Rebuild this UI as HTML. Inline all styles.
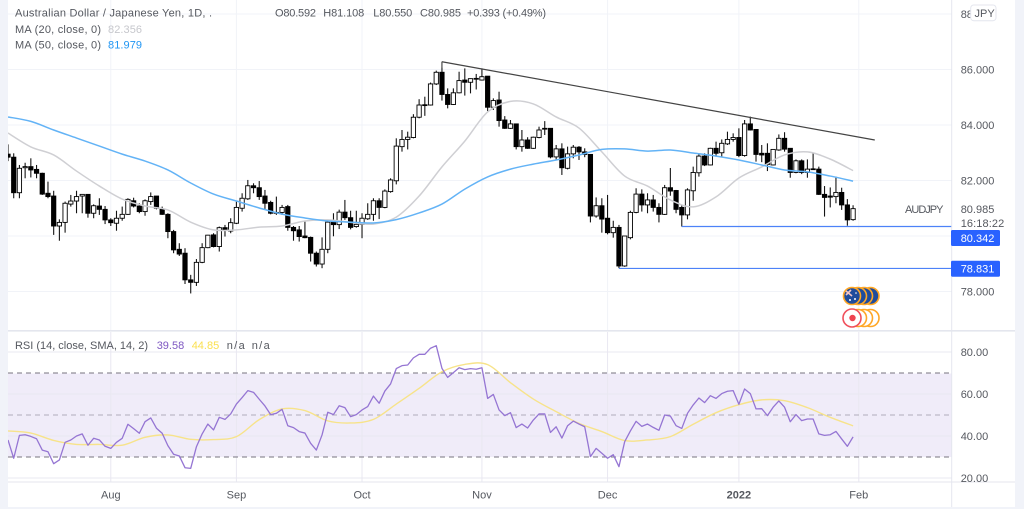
<!DOCTYPE html>
<html lang="en">
<head>
<meta charset="utf-8">
<title>AUD/JPY daily chart</title>
<style>
html,body{margin:0;padding:0;width:1024px;height:509px;overflow:hidden;background:#f1f3f9}
svg{display:block}
text{font-family:"Liberation Sans",sans-serif;font-size:11px;fill:#55585f}
</style>
</head>
<body>
<svg id="chart" xmlns="http://www.w3.org/2000/svg" width="1024" height="509" viewBox="0 0 1024 509">
  <defs>
    <clipPath id="mainClip"><rect x="8" y="0" width="943.5" height="330"/></clipPath>
    <clipPath id="rsiClip"><rect x="8" y="332" width="943.5" height="150"/></clipPath>
    <clipPath id="rsiAxisClip"><rect x="952" y="332" width="63" height="150"/></clipPath>
  </defs>
  <rect x="0" y="0" width="1024" height="509" fill="#f1f3f9"/>
  <rect x="8" y="0" width="1007" height="507" fill="#ffffff"/>
  <rect id="rsiBand" x="8" y="373.5" width="943.5" height="83.5" fill="#f0ecf9"/>
  <g id="gridLayer"></g>
  <g id="candleLayer" clip-path="url(#mainClip)"></g>
  <g id="maLayer" clip-path="url(#mainClip)"></g>
  <g id="drawLayer" clip-path="url(#mainClip)"></g>
  <g id="rsiLayer" clip-path="url(#rsiClip)"></g>

  <line x1="8" y1="330.8" x2="1015" y2="330.8" stroke="#e4e6ee" stroke-width="1.6"/>
  <rect x="8" y="482" width="1007" height="25" fill="#ffffff"/>
  <line x1="8" y1="482" x2="1015" y2="482" stroke="#e4e6ee"/>
  <line x1="951.7" y1="0" x2="951.7" y2="507" stroke="#e4e6ee"/>
  <g id="axisLayer"></g>

  <g>
    <circle cx="870.5" cy="296" r="8.5" fill="#1f4c9c" stroke="#ffa726" stroke-width="1.6"/>
    <circle cx="864" cy="296" r="8.5" fill="#1f4c9c" stroke="#ffa726" stroke-width="1.6"/>
    <circle cx="858" cy="296" r="8.5" fill="#1f4c9c" stroke="#ffa726" stroke-width="1.6"/>
    <circle cx="852" cy="296" r="8.5" fill="#1f4c9c" stroke="#ffa726" stroke-width="1.6"/>
    <path d="M846 291 L852 296 M846 295 L851 290" stroke="#f3c6c6" stroke-width="1.6"/>
    <circle cx="855" cy="299" r="1" fill="#fff"/>
    <circle cx="850" cy="300" r="1" fill="#fff"/>
    <circle cx="856" cy="293" r="0.8" fill="#fff"/>
  </g>
  <g>
    <circle cx="870.5" cy="318" r="8.5" fill="#fff" stroke="#ffa726" stroke-width="1.6"/>
    <circle cx="864" cy="318" r="8.5" fill="#fff" stroke="#ffa726" stroke-width="1.6"/>
    <circle cx="858" cy="318" r="8.5" fill="#fff" stroke="#ffa726" stroke-width="1.6"/>
    <circle cx="852" cy="318" r="9" fill="#fff" stroke="#f0505c" stroke-width="1.6"/>
    <circle cx="852.5" cy="318" r="3.2" fill="#ef4350"/>
  </g>

  <g>
    <text x="15" y="16.5" textLength="197" lengthAdjust="spacing">Australian Dollar / Japanese Yen, 1D, .</text>
    <text x="275" y="16.5" textLength="41" lengthAdjust="spacing">O80.592</text>
    <text x="323.3" y="16.5" textLength="41" lengthAdjust="spacing">H81.108</text>
    <text x="373.3" y="16.5" textLength="39" lengthAdjust="spacing">L80.550</text>
    <text x="420" y="16.5" textLength="41" lengthAdjust="spacing">C80.985</text>
    <text x="467" y="16.5" textLength="79" lengthAdjust="spacing">+0.393 (+0.49%)</text>
    <text x="15" y="33" textLength="86" lengthAdjust="spacing">MA (20, close, 0)</text>
    <text x="108" y="33" textLength="34" lengthAdjust="spacing" style="fill:#c6c7cc">82.356</text>
    <text x="15" y="48.5" textLength="86" lengthAdjust="spacing">MA (50, close, 0)</text>
    <text x="108" y="48.5" textLength="34" lengthAdjust="spacing" style="fill:#2196f3">81.979</text>
    <text x="15" y="349" textLength="133" lengthAdjust="spacing">RSI (14, close, SMA, 14, 2)</text>
    <text x="156.7" y="349" textLength="27.5" lengthAdjust="spacing" style="fill:#7e57c2">39.58</text>
    <text x="191.7" y="349" textLength="27.5" lengthAdjust="spacing" style="fill:#fbe04f">44.85</text>
    <text x="226.7" y="349" textLength="18" lengthAdjust="spacing">n/a</text>
    <text x="251.7" y="349" textLength="18" lengthAdjust="spacing">n/a</text>
  </g>

  <text x="905" y="213" textLength="38.5" lengthAdjust="spacing">AUDJPY</text>
  <text x="960.7" y="213">80.985</text>
  <text x="960.7" y="227" textLength="43.5" lengthAdjust="spacing">16:18:22</text>
  <g>
    <rect x="951" y="230" width="49" height="16" rx="1.5" fill="#2962ff"/>
    <text x="960.7" y="242" style="fill:#fff">80.342</text>
  </g>
  <g>
    <rect x="951" y="260.7" width="49" height="16" rx="1.5" fill="#2962ff"/>
    <text x="960.7" y="272.7" style="fill:#fff">78.831</text>
  </g>
  <g>
    <rect x="970.7" y="5" width="25.3" height="15.7" rx="3" fill="#fff" stroke="#e4e6ee"/>
    <text x="974.5" y="16.8">JPY</text>
  </g>
</svg>

<script>
// ---------- chart data ----------
const opens = [82.95,
82.84,81.56,82.46,82.50,82.40,82.26,81.54,81.44,80.36,80.49,81.15,81.26,81.44,81.50,80.82,81.08,80.96,80.58,80.46,80.64,
80.78,81.27,81.08,80.88,81.24,81.44,80.96,80.78,80.16,79.52,79.38,78.42,78.33,79.05,79.58,80.04,79.62,80.30,80.18,80.46,
81.00,81.34,81.81,81.74,81.44,81.21,80.85,80.85,81.06,80.31,80.22,80.00,79.95,79.38,78.99,79.52,80.50,
80.41,80.86,80.66,80.34,80.42,80.62,80.78,81.27,81.03,81.60,
81.99,83.22,83.48,83.55,84.28,84.70,84.72,85.48,85.90,85.10,84.74,85.16,85.62,85.54,85.68,85.62,85.76,84.64,84.90,84.18,
83.88,84.04,83.22,83.46,83.16,83.55,83.88,83.88,82.85,83.14,82.44,82.96,83.20,83.03,82.94,
80.72,81.09,80.64,80.12,80.31,78.92,79.94,80.85,81.51,81.12,81.30,81.03,80.78,81.74,81.64,
81.03,80.76,81.63,82.28,82.88,82.56,83.16,83.00,83.32,83.48,83.55,82.90,84.04,83.84,82.98,82.98,82.56,83.10,83.52,83.16,
82.29,82.71,82.29,82.42,82.41,81.50,81.44,81.42,81.57,81.12,80.59];
const highs = [83.30,
82.98,82.56,82.64,82.80,82.56,82.28,81.96,81.63,80.60,81.24,81.48,81.63,81.50,81.50,81.14,81.36,81.08,80.64,80.91,81.06,
81.36,81.38,81.18,81.32,81.57,81.44,81.06,80.82,80.22,79.74,79.56,78.60,79.17,79.74,80.04,80.10,80.34,80.40,80.64,81.24,
81.54,82.02,81.90,81.98,81.66,81.27,81.42,81.12,81.12,80.36,80.36,80.52,79.98,79.44,79.95,80.55,80.82,
80.95,81.30,80.91,80.91,80.82,81.18,81.36,81.36,81.68,82.08,
83.52,83.82,83.76,84.39,84.93,85.02,85.53,85.96,86.28,85.32,85.32,85.92,86.04,85.68,85.84,86.04,85.76,84.96,85.20,84.32,
84.18,84.04,83.82,83.56,83.58,83.94,84.14,83.88,83.28,83.34,83.22,83.28,83.24,83.16,82.94,
81.39,81.36,81.48,80.55,80.40,80.00,80.91,81.72,81.68,81.54,81.48,81.18,81.84,82.45,81.66,
81.12,81.72,82.50,82.98,82.98,83.18,83.40,83.48,83.76,83.70,83.88,84.18,84.30,83.84,83.28,83.34,83.12,83.66,83.74,83.16,
82.76,82.76,82.76,83.00,82.50,81.80,81.75,82.14,81.74,81.33,81.108];
const lows = [82.70,
81.36,81.36,82.08,82.11,82.08,81.48,81.36,80.04,79.83,80.12,81.06,80.82,80.82,80.66,80.64,80.76,80.43,80.36,80.19,80.55,
80.76,81.03,80.82,80.73,81.12,80.96,80.76,79.92,79.38,79.28,78.27,77.93,78.20,79.02,79.56,79.59,79.44,79.98,80.10,80.43,
80.88,81.30,81.54,81.30,80.96,80.78,80.76,80.76,80.19,79.83,79.80,79.92,79.08,78.90,78.84,79.38,79.99,
80.25,80.58,80.24,80.30,79.92,80.58,80.55,80.61,81.00,81.56,
81.86,83.04,83.12,83.52,84.24,84.33,84.70,85.44,84.88,84.60,84.72,85.14,85.06,85.14,85.28,85.60,84.50,84.54,83.94,83.86,
83.86,83.12,83.04,83.14,83.14,83.52,83.64,82.80,82.74,82.20,82.40,82.80,82.74,82.84,80.49,
80.66,80.12,80.06,79.94,78.84,78.89,79.88,80.82,80.88,80.82,80.88,80.49,80.76,81.45,80.82,
80.34,80.60,81.27,82.14,82.52,82.54,82.86,82.83,83.28,83.40,82.84,82.86,83.80,82.68,82.66,82.34,82.54,83.07,83.04,82.10,
82.26,82.23,82.10,82.38,81.48,80.70,81.03,81.18,80.94,80.37,80.55];
const closes = [82.84,
81.56,82.44,82.50,82.38,82.26,81.51,81.42,80.36,80.49,81.18,81.26,81.42,81.50,80.82,81.09,80.96,80.58,80.48,80.64,80.78,
81.32,81.08,80.88,81.27,81.42,81.00,80.78,80.16,79.50,79.35,78.42,78.33,79.05,79.58,80.03,79.62,80.30,80.22,80.48,81.03,
81.36,81.81,81.74,81.42,81.18,80.82,80.82,81.03,80.31,80.19,79.98,79.94,79.38,78.99,79.52,80.50,80.41,
80.86,80.66,80.31,80.42,80.64,80.78,81.27,81.03,81.62,82.02,
83.24,83.48,83.56,84.28,84.72,84.73,85.48,85.90,85.10,84.74,85.16,85.60,85.54,85.67,85.65,85.74,84.64,84.88,84.16,83.88,
84.04,83.22,83.46,83.16,83.56,83.82,83.85,82.85,83.14,82.46,82.96,83.20,83.03,82.94,80.72,
81.09,80.61,80.12,80.31,78.92,80.00,80.85,81.51,81.12,81.30,81.03,80.78,81.74,81.62,80.96,
80.76,81.66,82.29,82.88,82.56,83.16,82.98,83.34,83.48,83.55,82.90,84.04,83.82,82.94,82.92,82.58,83.12,83.52,83.13,82.29,
82.71,82.29,82.41,82.40,81.50,81.39,81.40,81.57,81.12,80.58,80.985];

// moving averages, read every fourth session
const maSampleStep = 4;
const ma20Values = [83.71,83.21,82.92,82.34,81.80,81.33,81.08,80.94,80.50,80.22,80.22,80.32,80.36,80.54,80.58,80.49,80.43,80.68,81.44,82.49,83.42,84.47,84.85,84.76,84.29,83.89,83.03,82.16,81.80,81.30,81.05,81.41,82.09,82.49,82.92,83.03,82.77,82.356];
const ma50Values = [84.29,84.13,83.82,83.53,83.24,82.95,82.70,82.38,81.91,81.51,81.26,81.01,80.79,80.65,80.54,80.50,80.47,80.59,80.83,81.15,81.69,82.13,82.41,82.59,82.74,82.92,83.12,83.14,83.06,83.10,82.99,82.88,82.74,82.56,82.38,82.31,82.16,81.979];

const rsiValues = [38.1,
29.4,40.3,40.6,39.8,38.7,33.3,32.5,26.8,28.6,37.0,38.1,40.0,41.0,35.6,38.9,38.1,35.1,34.1,37.0,38.9,
45.6,43.5,41.3,46.8,48.6,43.7,41.3,35.4,31.3,30.5,24.9,24.6,34.9,41.0,45.7,42.9,48.9,47.9,50.5,55.2,
58.3,61.6,60.8,57.5,54.3,50.2,50.8,52.7,44.9,44.0,42.1,41.4,36.5,33.3,40.5,51.3,50.2,54.4,
53.5,49.2,50.2,52.4,54.0,59.0,55.6,61.4,64.8,72.1,73.5,73.8,77.2,78.9,78.9,81.8,83.0,72.2,67.9,70.2,
72.5,71.6,72.1,71.8,72.5,57.9,59.8,52.4,49.7,51.1,44.0,45.7,43.8,47.6,50.5,50.5,41.7,44.4,39.0,44.9,
47.1,45.7,44.4,30.2,34.1,31.8,29.4,31.1,25.4,37.3,42.4,47.0,44.6,45.7,44.1,42.7,50.0,49.5,44.9,
43.6,50.8,54.8,58.1,55.9,59.2,57.9,60.2,61.3,61.6,55.1,62.4,60.2,52.9,53.0,49.7,53.7,56.7,53.7,46.8,
50.2,47.3,48.1,48.1,41.0,40.3,40.6,42.2,38.6,35.1,39.58];
const rsiMaValues = [42.4,41.4,37.9,36.0,36.0,35.6,39.4,40.5,38.4,38.3,39.7,47.8,52.9,52.1,47.2,46.2,47.9,55.2,62.7,70.6,74.1,74.0,65.4,57.6,51.6,46.0,42.1,37.8,38.1,39.7,45.6,51.1,54.9,57.2,56.8,53.5,48.9,44.85];

const priceTicks = [88, 86, 84, 82, 78];
const priceGrid = [88, 86, 84, 82, 80, 78];
const rsiTicks = [80, 60, 40, 20];
const rsiLevels = [70, 50, 30];
const timeLabels = ['Aug', 'Sep', 'Oct', 'Nov', 'Dec', '2022', 'Feb'];
const timeSessions = [18, 40, 62, 83, 105, 128, 149];

const trendSessions = [76, 151.8];
const trendPrices = [86.28, 83.46];
const levelSessions = [118, 107];
const levelPrices = [80.342, 78.831];

// ---------- axis functions ----------
function xAt(session) { return 8 + 5.71 * session; }
function yPrice(price) { return 69.5 + (86 - price) * 27.75; }
function yRsi(value) { return 352 + (80 - value) * 2.1; }

const NS = 'http://www.w3.org/2000/svg';
function make(tag, attrs, parent) {
  const el = document.createElementNS(NS, tag);
  for (const key in attrs) el.setAttribute(key, attrs[key]);
  parent.appendChild(el);
  return el;
}
function smoothPath(points) {
  let d = 'M' + points[0][0].toFixed(2) + ' ' + points[0][1].toFixed(2);
  for (let i = 0; i < points.length - 1; i++) {
    const p0 = points[Math.max(0, i - 1)], p1 = points[i], p2 = points[i + 1], p3 = points[Math.min(points.length - 1, i + 2)];
    const c1x = p1[0] + (p2[0] - p0[0]) / 6, c1y = p1[1] + (p2[1] - p0[1]) / 6;
    const c2x = p2[0] - (p3[0] - p1[0]) / 6, c2y = p2[1] - (p3[1] - p1[1]) / 6;
    d += ' C' + c1x.toFixed(2) + ' ' + c1y.toFixed(2) + ' ' + c2x.toFixed(2) + ' ' + c2y.toFixed(2) + ' ' + p2[0].toFixed(2) + ' ' + p2[1].toFixed(2);
  }
  return d;
}

const gridLayer = document.getElementById('gridLayer');
const candleLayer = document.getElementById('candleLayer');
const maLayer = document.getElementById('maLayer');
const drawLayer = document.getElementById('drawLayer');
const rsiLayer = document.getElementById('rsiLayer');
const axisLayer = document.getElementById('axisLayer');

// grid
priceGrid.forEach(function (p) {
  const g = make('line', { x1: 8, x2: 951.5, y1: yPrice(p), y2: yPrice(p), stroke: '#f1f3f8' }, gridLayer);
  
  
});
rsiTicks.forEach(function (v) {
  const g = make('line', { x1: 8, x2: 951.5, y1: yRsi(v), y2: yRsi(v), stroke: '#e9e8f1' }, gridLayer);
  
  
});
timeSessions.forEach(function (s) {
  const g1 = make('line', { x1: xAt(s), x2: xAt(s), y1: 0, y2: 330, stroke: '#f1f3f8' }, gridLayer);
  
  
  const g2 = make('line', { x1: xAt(s), x2: xAt(s), y1: 332, y2: 482, stroke: '#e9e8f1' }, gridLayer);
  
  
});

// candles
for (let k = 0; k < closes.length; k++) {
  const x = xAt(k);
  const up = closes[k] >= opens[k];
  const wick = make('line', { x1: x, x2: x, y1: yPrice(highs[k]), y2: yPrice(lows[k]), stroke: '#141414', 'stroke-width': 1.1 }, candleLayer);
  
  
  const top = yPrice(Math.max(opens[k], closes[k]));
  const bottom = yPrice(Math.min(opens[k], closes[k]));
  const body = make('rect', { x: x - 2.15, y: top, width: 4.3, height: Math.max(bottom - top, 0.8), fill: up ? '#ffffff' : '#000000', stroke: '#000000', 'stroke-width': 0.9 }, candleLayer);
  
  
}

// moving averages
const ma20Line = make('path', { d: smoothPath(ma20Values.map(function (v, n) { return [xAt(n * maSampleStep), yPrice(v)]; })), fill: 'none', stroke: '#cfcfd3', 'stroke-width': 1.5 }, maLayer);


const ma50Line = make('path', { d: smoothPath(ma50Values.map(function (v, n) { return [xAt(n * maSampleStep), yPrice(v)]; })), fill: 'none', stroke: '#63b3f6', 'stroke-width': 1.5 }, maLayer);



// drawings
const trendLine = make('line', { x1: xAt(trendSessions[0]), y1: yPrice(trendPrices[0]), x2: xAt(trendSessions[1]), y2: yPrice(trendPrices[1]), stroke: '#444444', 'stroke-width': 1.2 }, drawLayer);


const trendTick = make('line', { x1: xAt(trendSessions[0]), y1: yPrice(trendPrices[0]), x2: xAt(trendSessions[0]), y2: yPrice(trendPrices[0]) + 6, stroke: '#444444', 'stroke-width': 1 }, drawLayer);


levelPrices.forEach(function (p, n) {
  const lvl = make('line', { x1: xAt(levelSessions[n]), y1: yPrice(p), x2: 951.5, y2: yPrice(p), stroke: '#4d82f8', 'stroke-width': 1.2 }, drawLayer);
  
  
});

// RSI levels + lines
rsiLevels.forEach(function (v, n) {
  const lvl = make('line', { x1: 8, x2: 951.5, y1: yRsi(v), y2: yRsi(v), stroke: n === 1 ? '#b0adba' : '#77757f', 'stroke-width': 1, 'stroke-dasharray': '5 4' }, rsiLayer);
  
  
});
const rsiMaLine = make('path', { d: smoothPath(rsiMaValues.map(function (v, n) { return [xAt(n * maSampleStep), yRsi(v)]; })), fill: 'none', stroke: '#f7e38a', 'stroke-width': 1.4 }, rsiLayer);


const rsiLine = make('polyline', { points: rsiValues.map(function (v, k) { return xAt(k).toFixed(2) + ',' + yRsi(v).toFixed(2); }).join(' '), fill: 'none', stroke: '#9575d3', 'stroke-width': 1.3, 'stroke-linejoin': 'round' }, rsiLayer);



// axis labels
priceTicks.forEach(function (p) {
  const t = make('text', { x: 960.7, y: yPrice(p) + 4 }, axisLayer);
  
  
  t.textContent = p.toFixed(3);
});
rsiTicks.forEach(function (v) {
  const t = make('text', { x: 960.7, y: yRsi(v) + 4, 'clip-path': 'url(#rsiAxisClip)' }, axisLayer);
  
  
  t.textContent = v.toFixed(2);
});
timeLabels.forEach(function (label, n) {
  const t = make('text', { x: xAt(timeSessions[n]), y: 498.5, 'text-anchor': 'middle' }, axisLayer);
  
  
  if (label === '2022') t.setAttribute('style', 'font-weight:bold');
  t.textContent = label;
});
</script>
</body>
</html>
